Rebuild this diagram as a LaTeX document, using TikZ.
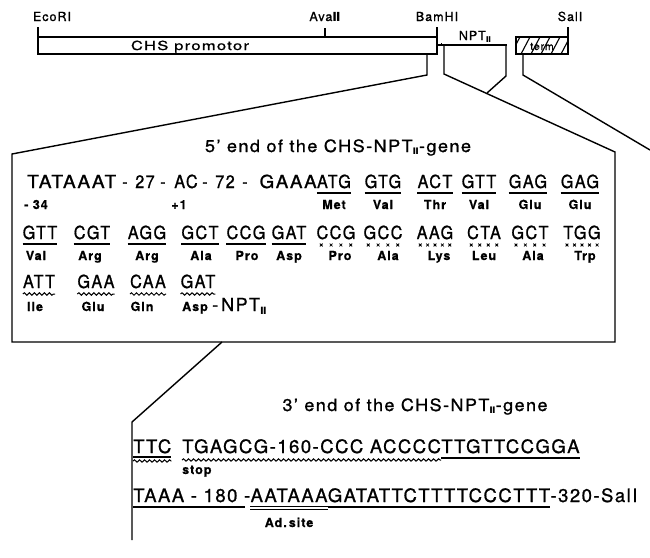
\documentclass[tikz,border=0pt]{standalone}
\usepackage{graphicx}
\usepackage{fontspec}
\setmainfont{TeX Gyre Heros}[LetterSpace=8,FakeBold=1]
\newfontfamily\codf{TeX Gyre Heros}[LetterSpace=8,FakeBold=1,FakeStretch=0.9]
\newfontfamily\dvs{DejaVu Sans Bold}
\usetikzlibrary{calc,decorations.pathmorphing}
\newcommand{\romII}{{\dvs Ⅱ}}
\newcommand{\ulcod}[2][5]{\draw[ul] ($(#2.base west)+(0,#1)$) -- ($(#2.base east)+(0,#1)$);}
\newcommand{\wvcod}[2][6]{\draw[wav] ($(#2.base west)+(0,#1)$) -- ($(#2.base east)+(0,#1)$);}
\newcommand{\xcod}[2]{\foreach \i in {1,...,#2}{\draw[line width=0.8pt] ($(#1.base west)!{(\i-0.5)/#2}!(#1.base east)+(0,6)$) ++(-1.4,-1.4) -- ++(2.8,2.8) ++(0,-2.8) -- ++(-2.8,2.8);}}
\tikzset{
 seq/.style={font=\codf\fontsize{18}{19}\selectfont, inner sep=0pt, anchor=base},
 seqb/.style={font=\fontsize{18.5}{20}\selectfont, inner sep=0pt, anchor=base west},
 aa/.style={font=\fontsize{12.5}{14}\selectfont\bfseries, inner sep=0pt, anchor=base},
 ttl/.style={font=\fontsize{17}{19}\selectfont, inner sep=0pt, anchor=base},
 mapl/.style={font=\fontsize{12.5}{14}\selectfont, inner sep=0pt, anchor=base},
 ul/.style={line width=1.2pt},
 wav/.style={line width=1pt, decorate, decoration={snake, amplitude=1.2pt, segment length=5pt}},
 ln/.style={line width=1.4pt},
}
\begin{document}
\begin{tikzpicture}[x=1pt,y=-1pt]
\useasboundingbox (0,0) rectangle (650,557);
% ---------- map ----------
\node[mapl] (ecori) at (52,21) {EcoRI};
\node[mapl] (ava) at (325,21) {Ava\romII};
\node[mapl] (bam) at (437,21) {BamHI};
\node[mapl] (sal) at (570,21) {SalI};
\draw[ln] (38,37) rectangle (437,54);
\node[mapl] (chs) at (190,50) {\resizebox{118pt}{\height}{CHS promotor}};
\draw[ln] (38,37) -- (38,27);
\draw[ln] (325,37) -- (325,28);
\draw[ln] (437,37) -- (437,27);
\draw[ln] (437,45) -- (507,45);
\draw[line width=1pt] (441,43) -- (441,45);
\node[mapl] (nptm) at (475,40) {NPT\raisebox{-2pt}{\fontsize{8}{8}\selectfont\romII}};
\begin{scope}
\clip (516,37) rectangle (568,54);
\foreach \xx in {510,520,...,570} \draw[line width=1.1pt] (\xx,56) -- (\xx+11,35);
\end{scope}
\draw[ln] (516,37) rectangle (568,54);
\draw[ln] (568,37) -- (568,27);
\node[mapl, font=\fontsize{10.5}{11}\selectfont] (term) at (542,50) {term};
% connectors
\coordinate (tl5) at (12,154);
\coordinate (tr5) at (615,152);
\coordinate (bl5) at (12,342);
\coordinate (br5) at (615,342);
\draw[ln] (427,54) -- (427,75) -- (tl5) -- (bl5) -- (br5) -- (tr5) -- (444,74) -- (444,45);
\draw[ln] (506,45) -- (506,76) -- (487,93);
\draw[ln] (523,54) -- (523,75) -- (650,150);
\coordinate (d3a) at (222,342);
\coordinate (d3b) at (132,422);
\coordinate (d3c) at (132,540);
\draw[ln] (d3a) -- (d3b) -- (d3c);
% ---------- 5' box ----------
\node[ttl] (t5) at (338,152) {\resizebox{266pt}{\height}{5' end of the CHS-NPT\raisebox{-2.5pt}{\fontsize{9}{9}\selectfont\romII}-gene}};
% row 1
\node[seq, anchor=base west] (tata) at (27,188) {\resizebox{89pt}{\height}{TATAAAT}};
\node[seq] (m1) at (125,188) {-};
\node[seq] (n27) at (145,188) {27};
\node[seq] (m2) at (163,188) {-};
\node[seq] (ac) at (186,188) {AC};
\node[seq] (m3) at (205,188) {-};
\node[seq] (n72) at (225,188) {72};
\node[seq] (m4) at (245,188) {-};
\node[seq] (a1) at (334,188) {ATG};
\node[seq, anchor=base east] (gaaa) at (a1.base west) {\resizebox{57pt}{\height}{GAAA}};
\node[seq] (a2) at (383,188) {GTG};
\node[seq] (a3) at (435,188) {ACT};
\node[seq] (a4) at (479,188) {GTT};
\node[seq] (a5) at (528,188) {GAG};
\node[seq] (a6) at (580,188) {GAG};
\foreach \c in {a1,a2,a3,a4,a5,a6} {\ulcod{\c}}
\node[aa] (lm34) at (36,209) {- 34};
\node[aa] (lp1) at (179,209) {+1};
\node[aa] (la1) at ($(a1.base)+(0,21)$) {Met};
\node[aa] (la2) at ($(a2.base)+(0,21)$) {Val};
\node[aa] (la3) at ($(a3.base)+(0,21)$) {Thr};
\node[aa] (la4) at ($(a4.base)+(0,21)$) {Val};
\node[aa] (la5) at ($(a5.base)+(2,21)$) {Glu};
\node[aa] (la6) at ($(a6.base)+(0,21)$) {Glu};
% row 2
\node[seq] (b1) at (40,239) {GTT};
\node[seq] (b2) at (92,239) {CGT};
\node[seq] (b3) at (147,239) {AGG};
\node[seq] (b4) at (200,239) {GCT};
\node[seq] (b5) at (246,239) {CCG};
\node[seq] (b6) at (289,239) {GAT};
\node[seq] (b7) at (336,239) {CCG};
\node[seq] (b8) at (383,239) {GCC};
\node[seq] (b9) at (435,239) {AAG};
\node[seq] (b10) at (484,239) {CTA};
\node[seq] (b11) at (530,239) {GCT};
\node[seq] (b12) at (582,239) {TGG};
\foreach \c in {b1,b2,b3,b4,b5,b6} {\ulcod{\c}}
\xcod{b7}{4} \xcod{b8}{4} \xcod{b9}{5} \xcod{b10}{4} \xcod{b11}{4} \xcod{b12}{5}
\node[aa] (lb1) at ($(b1.base)+(-4,21)$) {Val};
\node[aa] (lb2) at ($(b2.base)+(-2,21)$) {Arg};
\node[aa] (lb3) at ($(b3.base)+(0,21)$) {Arg};
\node[aa] (lb4) at ($(b4.base)+(1,21)$) {Ala};
\node[aa] (lb5) at ($(b5.base)+(1,21)$) {Pro};
\node[aa] (lb6) at ($(b6.base)+(0,21)$) {Asp};
\node[aa] (lb7) at ($(b7.base)+(4,21)$) {Pro};
\node[aa] (lb8) at ($(b8.base)+(5,21)$) {Ala};
\node[aa] (lb9) at ($(b9.base)+(4,21)$) {Lys};
\node[aa] (lb10) at ($(b10.base)+(0,21)$) {Leu};
\node[aa] (lb11) at ($(b11.base)+(3,21)$) {Ala};
\node[aa] (lb12) at ($(b12.base)+(3,21)$) {Trp};
% row 3
\node[seq] (c1) at (39,288) {ATT};
\node[seq] (c2) at (96,288) {GAA};
\node[seq] (c3) at (148,288) {CAA};
\node[seq] (c4) at (198,288) {GAT};
\foreach \c in {c1,c2,c3,c4} {\wvcod{\c}}
\node[aa] (lc1) at ($(c1.base)+(-4,23)$) {Ile};
\node[aa] (lc2) at ($(c2.base)+(-3,23)$) {Glu};
\node[aa] (lc3) at ($(c3.base)+(-6,23)$) {Gln};
\node[aa] (lc4) at ($(c4.base)+(-3,23)$) {Asp};
\node[seq, anchor=base west, font=\fontsize{18}{19}\selectfont] (npt3) at ($(lc4.base east)+(4,0)$) {-\,NPT\raisebox{-3pt}{\fontsize{10}{10}\selectfont\romII}};
% ---------- 3' box ----------
\node[ttl] (t3) at (415,411) {\resizebox{265pt}{\height}{3' end of the CHS-NPT\raisebox{-2.5pt}{\fontsize{9}{9}\selectfont\romII}-gene}};
\node[seqb] (ttc) at (133,453) {TTC};
\node[seqb] (tga) at (182,453) {TGAGCG-160-CCC ACCCC};
\node[seqb] (ttg) at (tga.base east) {TTGTTCCGGA};
\ulcod[4]{ttc}
\wvcod[8]{ttc}
\wvcod[7]{tga}
\ulcod[5]{ttg}
\node[aa, anchor=base west] (stop) at (182,474) {stop};
\node[seqb] (taaa) at (133,502) {TAAA - 180 -};
\node[seqb] (aat) at (taaa.base east) {AATAAA};
\node[seqb] (gat3) at (aat.base east) {GATATTCTTTTCCCTTT};
\node[seqb] (end3) at (gat3.base east) {-320-SalI};
\draw[ul] ($(taaa.base west)+(0,5)$) -- ($(taaa.base east)+(-5,5)$);
\ulcod[4.5]{aat}
\ulcod[7.5]{aat}
\ulcod[5]{gat3}
\node[aa] (ad) at ($(aat.base)+(0,25)$) {Ad.\,site};
\end{tikzpicture}
\end{document}
